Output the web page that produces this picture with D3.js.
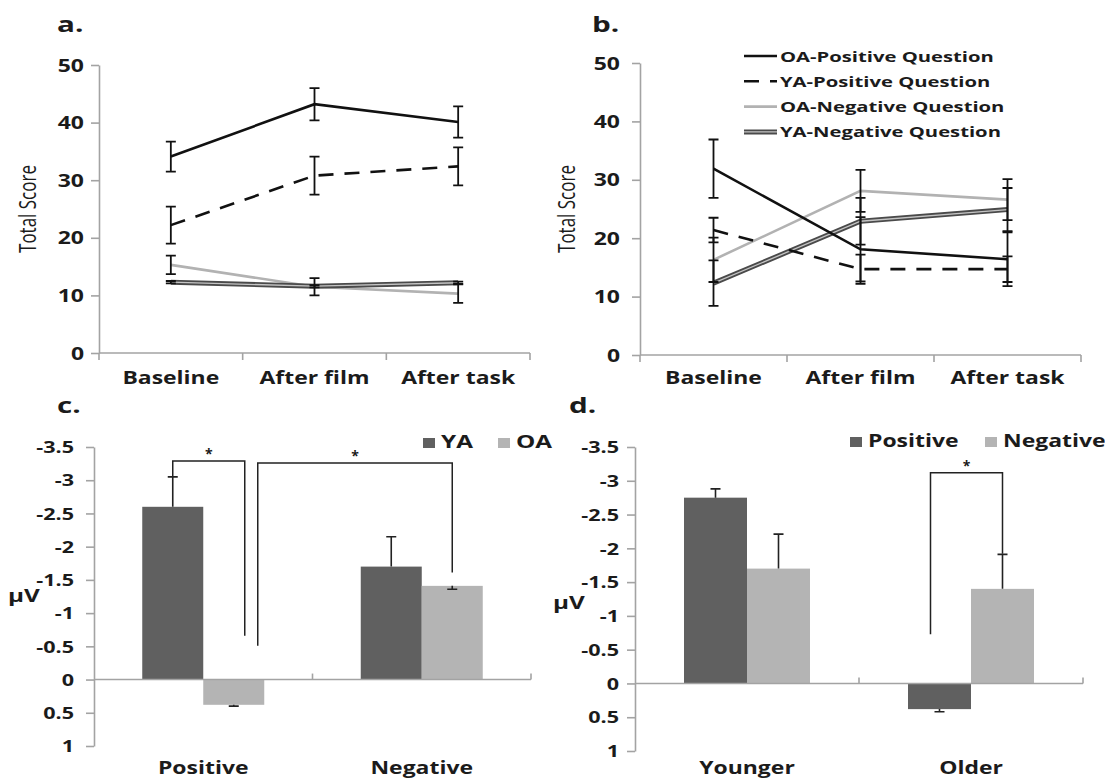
<!DOCTYPE html>
<html>
<head>
<meta charset="utf-8">
<script src="https://cdn.jsdelivr.net/npm/d3@7"></script>
<style>
  body { margin: 0; background: #fff; }
  text { font-family: "Open Sans", sans-serif; fill: #1b1b1b; }
</style>
</head>
<body>
<svg id="fig" width="1105" height="782"></svg>
<script>
// ---- data ----
var stages = ["Baseline", "After film", "After task"];
var lineSeries = ["OA-Positive Question", "YA-Positive Question", "OA-Negative Question", "YA-Negative Question"];
var scoreTicks = [0, 10, 20, 30, 40, 50];

// panel a: mean total score and +/- error, one row per series
var aMeans = [
  [34.1, 43.2, 40.1],
  [22.2, 30.8, 32.4],
  [15.3, 11.5, 10.3],
  [12.3, 11.6, 12.2]
];
var aErrors = [
  [2.6, 2.8, 2.7],
  [3.2, 3.3, 3.3],
  [1.6, 1.5, 1.6],
  [0.2, 0.2, 0.2]
];

// panel b
var bMeans = [
  [31.9, 18.1, 16.4],
  [21.4, 14.7, 14.7],
  [16.3, 28.1, 26.6],
  [12.3, 22.9, 24.9]
];
var bErrors = [
  [5.0, 5.5, 4.6],
  [2.1, 2.5, 2.2],
  [3.8, 3.6, 3.5],
  [3.9, 4.0, 3.7]
];

var uvTicks = [-3.5, -3, -2.5, -2, -1.5, -1, -0.5, 0, 0.5, 1];

// panel c: amplitude by question valence, bars per age group
var cGroups = ["Positive", "Negative"];
var cSeries = ["YA", "OA"];
var cValues = [[-2.6, -1.7], [0.38, -1.41]];
var cErrEnds = [[-3.05, -2.15], [0.40, -1.36]];
var cSig = [
  { from: ["Positive", "YA"], to: ["Positive", "OA"], top: -3.29, fromEnd: -3.05, toEnd: -0.66, mark: "*" },
  { from: ["Positive", "OA"], to: ["Negative", "OA"], top: -3.26, fromEnd: -0.51, toEnd: -1.61, mark: "*" }
];

// panel d: amplitude by age group, bars per question valence
var dGroups = ["Younger", "Older"];
var dSeries = ["Positive", "Negative"];
var dValues = [[-2.75, 0.38], [-1.7, -1.4]];
var dErrEnds = [[-2.88, 0.42], [-2.21, -1.91]];
var dSig = [
  { from: ["Older", "Positive"], to: ["Older", "Negative"], top: -3.12, fromEnd: -0.73, toEnd: -1.92, mark: "*" }
];

// ---- drawing ----
var SX = 1.35;            // the source figure is stretched sideways
var INK = "#1b1b1b", AXIS = "#a3a3a3";
var DARK = "#606060", LIGHT = "#b4b4b4";
var svg = d3.select("#fig");

function label(g, x, y, str, size, weight, anchor) {
  return g.append("text")
    .attr("transform", "translate(" + x + "," + y + ") scale(" + SX + ",1)")
    .attr("text-anchor", anchor || "start")
    .style("font-size", size + "px")
    .style("font-weight", weight)
    .text(str);
}

function yAxis(g, y, ticks, fmt, x0, gap, size) {
  var ax = g.append("g")
    .attr("transform", "translate(" + x0 + ",0)")
    .call(d3.axisLeft(y).tickValues(ticks).tickSize(8).tickSizeOuter(0).tickFormat(fmt));
  ax.select(".domain").attr("stroke", AXIS).attr("stroke-width", 1.6);
  ax.selectAll(".tick line").attr("stroke", AXIS).attr("stroke-width", 1.6);
  ax.selectAll(".tick text")
    .attr("x", null).attr("dy", null)
    .attr("transform", "translate(" + (-gap) + "," + (size * 0.36) + ") scale(" + SX + ",1)")
    .attr("fill", INK)
    .style("font-family", '"Open Sans", sans-serif')
    .style("font-size", size + "px")
    .style("font-weight", 700);
}

var lineStyles = [
  { color: "#111", width: 2.6 },
  { color: "#111", width: 2.6, dash: "15,11" },
  { color: "#b2b2b2", width: 2.6 },
  { color: "#4a4a4a", width: 5, inner: "#c4c4c4" }
];

function styledPath(g, d, st) {
  g.append("path").attr("d", d).attr("fill", "none")
    .attr("stroke", st.color).attr("stroke-width", st.width)
    .attr("stroke-dasharray", st.dash || null);
  if (st.inner) {
    g.append("path").attr("d", d).attr("fill", "none")
      .attr("stroke", st.inner).attr("stroke-width", 1.3);
  }
}

function linePanel(o) {
  var g = svg.append("g");
  var x = d3.scaleBand().domain(stages).range([o.x0, o.x1]);
  var y = d3.scaleLinear().domain([0, 50]).range([o.y0, o.y1]);
  var cx = function(s) { return x(s) + x.bandwidth() / 2; };

  label(g, o.letterX, o.letterY, o.letter, 22, 700, "start");

  yAxis(g, y, scoreTicks, d3.format("d"), o.x0, o.gap, 17);
  g.append("line").attr("x1", o.x0).attr("x2", o.x1).attr("y1", y(0)).attr("y2", y(0))
    .attr("stroke", AXIS).attr("stroke-width", 1.6);
  g.selectAll(".xtick").data(stages.map(function(s) { return x(s); }).concat([o.x1]))
    .enter().append("line")
    .attr("x1", function(d) { return d; }).attr("x2", function(d) { return d; })
    .attr("y1", y(0)).attr("y2", y(0) + 7)
    .attr("stroke", AXIS).attr("stroke-width", 1.6);
  stages.forEach(function(s) { label(g, cx(s), o.catY, s, 17, 700, "middle"); });

  g.append("text")
    .attr("transform", "translate(" + o.titleX + "," + ((o.y0 + o.y1) / 2) + ") scale(" + SX + ",1) rotate(-90)")
    .attr("text-anchor", "middle").attr("dy", "0.35em")
    .style("font-size", "17px").style("font-weight", 400)
    .text("Total Score");

  var line = d3.line()
    .x(function(d, i) { return cx(stages[i]); })
    .y(function(d) { return y(d); });

  [2, 3, 1, 0].forEach(function(k) { styledPath(g, line(o.means[k]), lineStyles[k]); });

  o.means.forEach(function(row, k) {
    row.forEach(function(m, j) {
      var px = cx(stages[j]), lo = y(m - o.errors[k][j]), hi = y(m + o.errors[k][j]);
      g.append("path")
        .attr("d", "M" + px + "," + lo + "V" + hi +
                   "M" + (px - 5) + "," + lo + "H" + (px + 5) +
                   "M" + (px - 5) + "," + hi + "H" + (px + 5))
        .attr("fill", "none").attr("stroke", "#111").attr("stroke-width", 1.8);
    });
  });

  if (o.legend) {
    lineSeries.forEach(function(name, k) {
      var ly = o.legend.y + k * o.legend.step;
      styledPath(g, "M" + o.legend.x + "," + ly + "H" + (o.legend.x + 33), lineStyles[k]);
      label(g, o.legend.x + 36, ly + 5.5, name, 15, 700, "start");
    });
  }
}

function barPanel(o) {
  var g = svg.append("g");
  var x0 = d3.scaleBand().domain(o.groups).range([o.x0, o.x1]);
  var x1 = d3.scaleBand().domain(o.series).range([-o.bw, o.bw]);
  var y = d3.scaleLinear().domain([-3.5, 1]).range([o.y0, o.y1]);
  var colors = [DARK, LIGHT];
  var barX = function(gr, s) { return x0(gr) + x0.bandwidth() / 2 + x1(s); };
  var barC = function(gr, s) { return barX(gr, s) + x1.bandwidth() / 2; };

  label(g, o.letterX, o.letterY, o.letter, 22, 700, "start");
  yAxis(g, y, uvTicks, function(d) { return String(d); }, o.x0, o.gap, 16);
  label(g, o.unitX, o.unitY, "μV", 18, 700, "start");

  o.series.forEach(function(s, k) {
    o.groups.forEach(function(gr, j) {
      var v = o.values[k][j];
      g.append("rect")
        .attr("x", barX(gr, s)).attr("width", x1.bandwidth())
        .attr("y", Math.min(y(v), y(0))).attr("height", Math.abs(y(v) - y(0)))
        .attr("fill", colors[k]);
      var px = barC(gr, s), e = y(o.errEnds[k][j]);
      g.append("path")
        .attr("d", "M" + px + "," + y(v) + "V" + e + "M" + (px - 5) + "," + e + "H" + (px + 5))
        .attr("fill", "none").attr("stroke", "#222").attr("stroke-width", 1.6);
    });
  });

  g.append("line").attr("x1", o.x0).attr("x2", o.x1).attr("y1", y(0)).attr("y2", y(0))
    .attr("stroke", AXIS).attr("stroke-width", 1.6);
  g.selectAll(".xtick").data([x0(o.groups[1]), o.x1]).enter().append("line")
    .attr("x1", function(d) { return d; }).attr("x2", function(d) { return d; })
    .attr("y1", y(0) - 6).attr("y2", y(0))
    .attr("stroke", AXIS).attr("stroke-width", 1.6);
  o.groups.forEach(function(gr) {
    label(g, x0(gr) + x0.bandwidth() / 2, o.catY, gr, 17, 700, "middle");
  });

  // legend
  o.series.forEach(function(s, k) {
    g.append("rect").attr("x", o.legend[k]).attr("y", o.legendY - 10)
      .attr("width", 12).attr("height", 10).attr("fill", colors[k]);
    label(g, o.legend[k] + 18, o.legendY, s, o.legendSize, 700, "start");
  });

  // significance brackets
  o.sig.forEach(function(b, i) {
    var xa = barC(b.from[0], b.from[1]) + o.nudge[i][0];
    var xb = barC(b.to[0], b.to[1]) + o.nudge[i][1];
    g.append("path")
      .attr("d", "M" + xa + "," + y(b.fromEnd) + "V" + y(b.top) + "H" + xb + "V" + y(b.toEnd))
      .attr("fill", "none").attr("stroke", "#222").attr("stroke-width", 1.5);
    g.append("text").attr("x", (xa + xb) / 2).attr("y", y(b.top) - 2)
      .attr("text-anchor", "middle").style("font-size", "14px").style("font-weight", 700)
      .text(b.mark);
  });
}

linePanel({ letter: "a.", letterX: 57, letterY: 32, x0: 99, x1: 530, y0: 353, y1: 65, gap: 15,
  catY: 384, titleX: 28, means: aMeans, errors: aErrors });
linePanel({ letter: "b.", letterX: 592, letterY: 32, x0: 640, x1: 1081, y0: 355, y1: 63, gap: 20,
  catY: 384, titleX: 567, means: bMeans, errors: bErrors,
  legend: { x: 744, y: 56, step: 25.3 } });
barPanel({ letter: "c.", letterX: 57, letterY: 413, groups: cGroups, series: cSeries, values: cValues,
  errEnds: cErrEnds, sig: cSig, nudge: [[0, 11], [24, 0]],
  x0: 94, x1: 531, y0: 447, y1: 746, bw: 61, gap: 20, unitX: 8, unitY: 602, catY: 774,
  legend: [423, 498], legendY: 448, legendSize: 18 });
barPanel({ letter: "d.", letterX: 569, letterY: 413, groups: dGroups, series: dSeries, values: dValues,
  errEnds: dErrEnds, sig: dSig, nudge: [[-9, 0]],
  x0: 635, x1: 1083, y0: 447, y1: 751, bw: 63, gap: 16, unitX: 553, unitY: 609, catY: 774,
  legend: [850, 985], legendY: 447, legendSize: 17 });
</script>
</body>
</html>
